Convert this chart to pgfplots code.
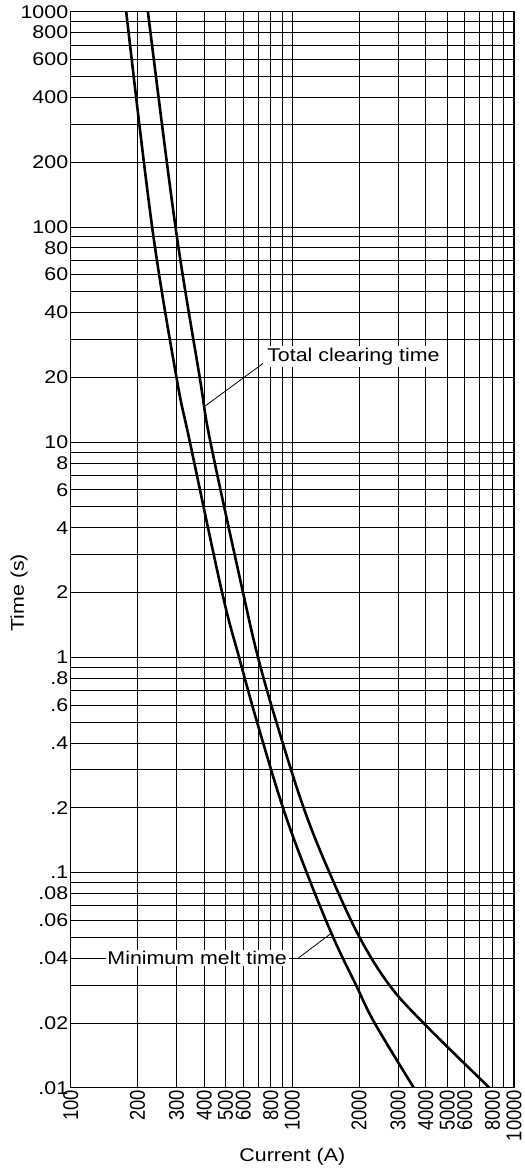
\documentclass[border=0pt]{standalone}
\usepackage{fontspec}
\setmainfont{Liberation Sans}
\usepackage{pgfplots}
\pgfplotsset{compat=1.18}

\newcommand{\chartfont}{\fontsize{18.5}{20}\selectfont}

\pgfplotstableread{
x y
178 1000
233 100
300 20
345 10
482 2
575 1
693 0.5
907 0.2
1160 0.1
1528 0.05
1937 0.03
2349 0.02
3530 0.01
}\minmelt

\pgfplotstableread{
x y
223 1000
297 100
382 20
427 10
599 2
700 1
847 0.5
1124 0.2
1470 0.1
2010 0.05
2740 0.03
3900 0.02
7740 0.01
}\clearing

\begin{document}
\begin{tikzpicture}
\useasboundingbox (-70.7bp,-84.3bp) rectangle (454.3bp,1087.7bp);
\begin{axis}[
    scale only axis,
    width=443.3bp, height=1076bp,
    xmode=log, ymode=log,
    xmin=100, xmax=10000, ymin=0.01, ymax=1000,
    /pgf/number format/assume math mode=true,
    axis line style={line width=1.1bp},
    xtick={100,200,300,400,500,600,700,800,900,1000,2000,3000,4000,5000,6000,7000,8000,9000,10000},
    xticklabels={100,200,300,400,500,600,,800,,1000,2000,3000,4000,5000,6000,,8000,,10000},
    ytick={0.01,0.02,0.03,0.04,0.05,0.06,0.07,0.08,0.09,
           0.1,0.2,0.3,0.4,0.5,0.6,0.7,0.8,0.9,
           1,2,3,4,5,6,7,8,9,
           10,20,30,40,50,60,70,80,90,
           100,200,300,400,500,600,700,800,900,1000},
    yticklabels={.01,.02,,.04,,.06,,.08,,
                 .1,.2,,.4,,.6,,.8,,
                 1,2,,4,,6,,8,,
                 10,20,,40,,60,,80,,
                 100,200,,400,,600,,800,,1000},
    minor tick num=0,
    major tick length=0pt,
    grid=major,
    major grid style={black, line width=0.8bp},
    tick label style={font=\chartfont},
    label style={font=\chartfont},
    xticklabel style={xscale=1.16, rotate=90, anchor=east, inner sep=2bp},
    yticklabel style={xscale=1.16, anchor=east, inner sep=2bp},
    xlabel={Current (A)},
    ylabel={Time (s)},
    xlabel style={xscale=1.16, at={(axis description cs:0.5,-0.0641)}, anchor=center},
    ylabel style={xscale=1.16, at={(axis description cs:-0.1166,0.46)}, anchor=center, rotate=0},
]
\addplot[black, line width=2.6bp, smooth, tension=0.6] table[x=x, y=y] {\minmelt};
\addplot[black, line width=2.6bp, smooth, tension=0.6] table[x=x, y=y] {\clearing};

\draw[black, line width=0.8bp] (axis cs:400,14.6) -- (axis cs:737,23.2);
\node[font=\chartfont, fill=white, inner sep=1.5bp, anchor=west, xscale=1.16] at (axis cs:755,25) {Total clearing time};

\draw[black, line width=0.8bp] (axis cs:1060,0.0399) -- (axis cs:1498,0.0522);
\node[font=\chartfont, fill=white, inner sep=1.5bp, anchor=center, xscale=1.16] at (axis cs:372,0.04) {Minimum melt time};
\end{axis}
\end{tikzpicture}
\end{document}
